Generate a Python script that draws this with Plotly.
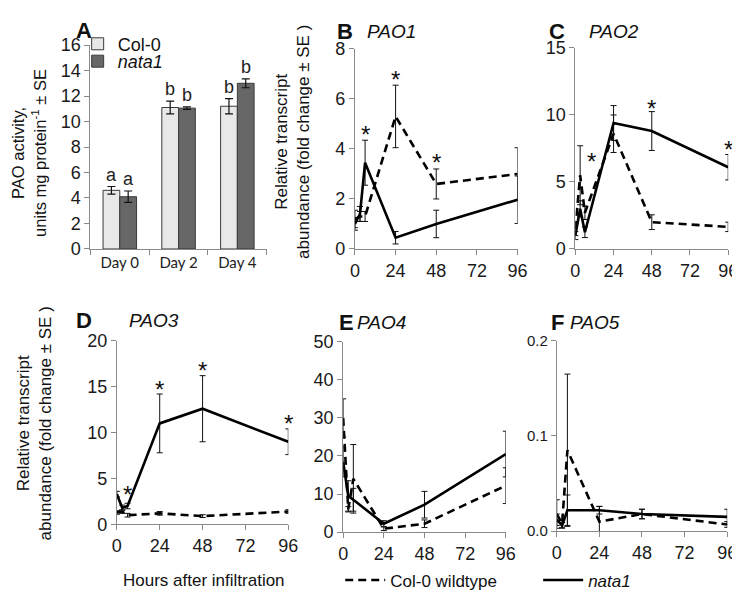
import plotly.graph_objects as go

W, H = 740, 595

# ---------------- data ----------------
days = ["Day 0", "Day 2", "Day 4"]
pao_col = [4.6, 11.1, 11.2]
pao_col_err = [0.3, 0.5, 0.6]
pao_nata = [4.1, 11.05, 13.0]
pao_nata_err = [0.45, 0.1, 0.35]
letters_col = ["a", "b", "b"]
letters_nata = ["a", "b", "b"]

hours = [0, 3, 6, 24, 48, 96]

pao1_col = [1.2, 1.3, 1.3, 5.3, 2.6, 3.0]
pao1_col_err = [0.35, 0.2, 0.2, 1.25, 0.6, 1.05]
pao1_nata = [1.0, 1.4, 3.45, 0.45, 1.0, 1.97]
pao1_nata_err = [0.25, 0.3, 0.9, 0.25, 0.55, 0.95]
pao1_stars = [(6, 4.8), (24, 7.0), (48, 3.7)]

pao2_col = [1.5, 5.5, 2.7, 8.6, 2.0, 1.65]
pao2_col_err = [0.5, 2.2, 0.5, 1.4, 0.55, 0.35]
pao2_nata = [1.0, 3.0, 1.25, 9.4, 8.8, 6.1]
pao2_nata_err = [0.3, 0.6, 0.4, 1.3, 1.45, 0.95]
pao2_stars = [(10, 7.0), (48, 10.9), (96, 7.9)]

pao3_col = [1.3, 1.4, 1.0, 1.2, 0.9, 1.4]
pao3_col_err = [0.2, 0.2, 0.2, 0.2, 0.15, 0.2]
pao3_nata = [3.3, 1.8, 2.0, 11.0, 12.6, 9.0]
pao3_nata_err = [0.3, 0.3, 0.3, 3.2, 3.6, 1.4]
pao3_stars = [(6, 3.9), (24, 15.3), (48, 17.4), (96, 11.6)]

pao4_col = [30, 6, 14, 0.9, 2.2, 12.2]
pao4_col_err = [5, 0.7, 9, 0.5, 1.0, 4.7]
pao4_nata = [18.5, 9.5, 8.5, 2.2, 7.2, 20.5]
pao4_nata_err = [4, 4, 3, 0.8, 3.5, 6]

pao5_col = [0.018, 0.008, 0.085, 0.010, 0.018, 0.007]
pao5_col_err = [0.015, 0.004, 0.08, 0.016, 0.005, 0.003]
pao5_nata = [0.012, 0.006, 0.022, 0.022, 0.018, 0.015]
pao5_nata_err = [0.006, 0.003, 0.016, 0.004, 0.005, 0.008]

FONT = "Liberation Sans, Arial, sans-serif"
AX = "#898989"


def xd(a, b):
    return [a / W, b / W]


def yd(top, bottom):
    return [1 - bottom / H, 1 - top / H]


fig = go.Figure()

# ---------------- panel A ----------------
fig.add_trace(go.Bar(
    x=days, y=pao_col, name="Col-0", xaxis="x", yaxis="y",
    marker=dict(color="#e8e8e8", line=dict(color="#3a3a3a", width=1)),
    error_y=dict(type="data", array=pao_col_err, color="#111", thickness=1.2, width=4),
    legend="legend", showlegend=True,
))
fig.add_trace(go.Bar(
    x=days, y=pao_nata, name="<i>nata1</i>", xaxis="x", yaxis="y",
    marker=dict(color="#676767", line=dict(color="#3a3a3a", width=1)),
    error_y=dict(type="data", array=pao_nata_err, color="#111", thickness=1.2, width=4),
    legend="legend3", showlegend=True,
))

annotations = []
for i, d in enumerate(days):
    annotations.append(dict(x=d, y=pao_col[i] + pao_col_err[i], xref="x", yref="y",
                            text=letters_col[i], showarrow=False, yanchor="bottom",
                            xshift=-8.5, font=dict(family=FONT, size=18, color="#222")))
    annotations.append(dict(x=d, y=pao_nata[i] + pao_nata_err[i], xref="x", yref="y",
                            text=letters_nata[i], showarrow=False, yanchor="bottom",
                            xshift=8.5, font=dict(family=FONT, size=18, color="#222")))

# ---------------- line panels ----------------
panels = [
    ("2", pao1_col, pao1_col_err, pao1_nata, pao1_nata_err, pao1_stars),
    ("3", pao2_col, pao2_col_err, pao2_nata, pao2_nata_err, pao2_stars),
    ("4", pao3_col, pao3_col_err, pao3_nata, pao3_nata_err, pao3_stars),
    ("5", pao4_col, pao4_col_err, pao4_nata, pao4_nata_err, []),
    ("6", pao5_col, pao5_col_err, pao5_nata, pao5_nata_err, []),
]
for k, (n, c, ce, m, me, stars) in enumerate(panels):
    first = (k == 0)
    fig.add_trace(go.Scatter(
        x=hours, y=c, mode="lines", name="Col-0 wildtype",
        xaxis="x" + n, yaxis="y" + n,
        line=dict(color="black", width=2.6, dash="8px,5px"),
        error_y=dict(type="data", array=ce, color="#111", thickness=1, width=3),
        showlegend=first, legend="legend2",
    ))
    fig.add_trace(go.Scatter(
        x=hours, y=m, mode="lines", name="<i>nata1</i>",
        xaxis="x" + n, yaxis="y" + n,
        line=dict(color="black", width=2.6),
        error_y=dict(type="data", array=me, color="#111", thickness=1, width=3),
        showlegend=first, legend="legend4",
    ))
    for (sx, sy) in stars:
        annotations.append(dict(x=sx, y=sy, xref="x" + n, yref="y" + n, text="*",
                                showarrow=False, yshift=-6,
                                font=dict(family=FONT, size=24, color="#111")))

# ---------------- axes ----------------
line_x = dict(showline=True, linecolor=AX, linewidth=1, ticks="outside", ticklen=5,
              tickcolor=AX, showgrid=False, zeroline=False, range=[0, 96],
              tickvals=[0, 24, 48, 72, 96],
              tickfont=dict(family=FONT, size=18, color="#1a1a1a"))
line_y = dict(showline=True, linecolor=AX, linewidth=1, ticks="outside", ticklen=5,
              tickcolor=AX, showgrid=False, zeroline=False,
              tickfont=dict(family=FONT, size=18, color="#1a1a1a"))

fig.update_layout(
    xaxis=dict(domain=xd(79, 259), anchor="y", showline=True, linecolor=AX, ticks="outside",
               tickson="boundaries", ticklen=5, tickcolor=AX, showgrid=False,
               tickfont=dict(family="Lato, Open Sans, sans-serif", size=15, color="#222")),
    yaxis=dict(domain=yd(28, 239), anchor="x", range=[0, 16], dtick=2, **line_y),
    xaxis2=dict(domain=xd(349, 515), anchor="y2", **line_x),
    yaxis2=dict(domain=yd(32, 239), anchor="x2", range=[0, 8], dtick=2, **line_y),
    xaxis3=dict(domain=xd(574, 730), anchor="y3", **line_x),
    yaxis3=dict(domain=yd(31, 239), anchor="x3", range=[0, 15], dtick=5, **line_y),
    xaxis4=dict(domain=xd(106, 281), anchor="y4", **line_x),
    yaxis4=dict(domain=yd(334, 524), anchor="x4", range=[0, 20], dtick=5, **line_y),
    xaxis5=dict(domain=xd(337, 503), anchor="y5", **line_x),
    yaxis5=dict(domain=yd(335, 532), anchor="x5", range=[0, 50], dtick=10, **line_y),
    xaxis6=dict(domain=xd(555, 729), anchor="y6", **line_x),
    yaxis6=dict(domain=yd(334, 531), anchor="x6", range=[0, 0.2], dtick=0.1,
                tickformat=".1f", **{**line_y, "tickfont": dict(family=FONT, size=15, color="#1a1a1a")}),
)

# ---------------- text ----------------
def txt(x, y, t, size=19, bold=False, italic=False, angle=0, family=FONT):
    if bold:
        t = "<b>" + t + "</b>"
    if italic:
        t = "<i>" + t + "</i>"
    return dict(x=x / W, y=1 - y / H, xref="paper", yref="paper", text=t, showarrow=False,
                textangle=angle, xanchor="center", yanchor="middle",
                font=dict(family=family, size=size, color="#111"))


annotations += [
    txt(72, 13, "A", 22, bold=True),
    txt(339, 14, "B", 22, bold=True), txt(386, 14, "PAO1", 19, italic=True),
    txt(555, 14, "C", 22, bold=True), txt(613, 14, "PAO2", 19, italic=True),
    txt(72, 313, "D", 22, bold=True), txt(144, 313, "PAO3", 19, italic=True),
    txt(340, 315, "E", 22, bold=True), txt(376, 315, "PAO4", 19, italic=True),
    txt(556, 315, "F", 22, bold=True), txt(594, 315, "PAO5", 19, italic=True),
    txt(16, 140, "PAO activity,<br>units mg protein<sup>-1</sup> ± SE", 16.5, angle=-90),
    txt(285, 128, "Relative transcript<br>abundance (fold change ± SE )", 17, angle=-90),
    txt(22, 420, "Relative transcript<br>abundance (fold change ± SE )", 17, angle=-90),
    txt(195, 582, "Hours after infiltration", 17),
]

leg_common = dict(xanchor="left", yanchor="middle", bgcolor="rgba(0,0,0,0)",
                  orientation="h")
fig.update_layout(
    width=W, height=H, margin=dict(l=0, r=0, t=0, b=0),
    paper_bgcolor="white", plot_bgcolor="white",
    showlegend=True,
    barmode="group", bargap=0.43, bargroupgap=0,
    annotations=annotations,
    legend=dict(x=66 / W, y=1 - 27 / H, font=dict(family=FONT, size=18, color="#111"),
                itemwidth=30, **leg_common),
    legend3=dict(x=66 / W, y=1 - 45 / H, font=dict(family=FONT, size=18, color="#111"),
                 itemwidth=30, **leg_common),
    legend2=dict(x=334 / W, y=1 - 582 / H, font=dict(family=FONT, size=17, color="#111"),
                 itemwidth=40, **leg_common),
    legend4=dict(x=536 / W, y=1 - 582 / H, font=dict(family=FONT, size=17, color="#111"),
                 itemwidth=40, **leg_common),
)

fig.write_html("out.html")
